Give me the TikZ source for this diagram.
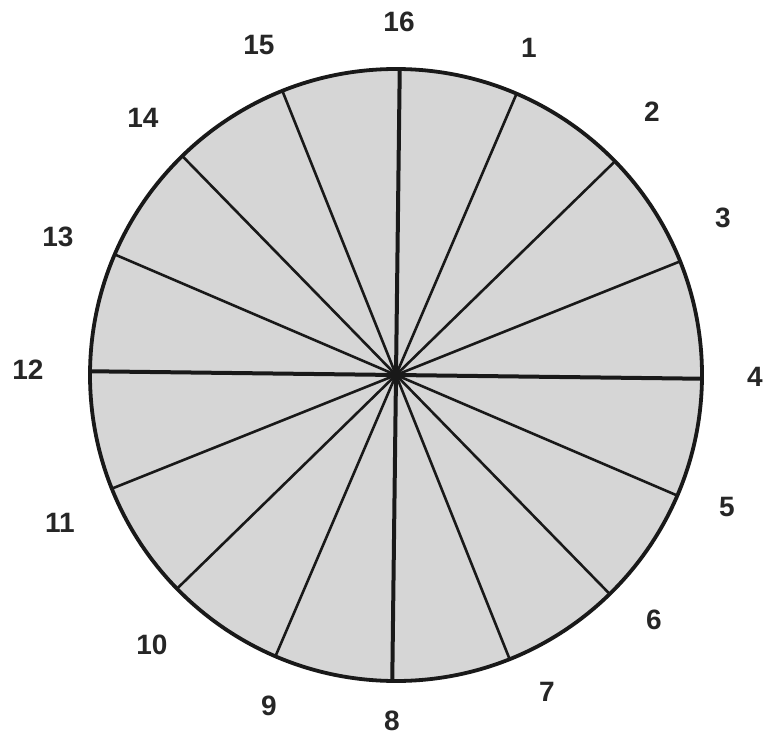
\documentclass[tikz,border=0pt]{standalone}
\usepackage{fontspec}
\setmainfont{Liberation Sans}
\definecolor{diskgray}{RGB}{214,214,214}
\begin{document}
\begin{tikzpicture}[x=1pt,y=-1pt,
  lbl/.style={font=\bfseries\fontsize{28}{30}\selectfont, inner sep=0pt, text=black!85},
  spoke/.style={line width=2.6pt, black!90},
  axisspoke/.style={line width=4pt, black!90},
  rim/.style={line width=3.8pt, black!90}]
\useasboundingbox (0,0) rectangle (773,738);
\coordinate (c) at (396,375);
\fill[diskgray] (c) circle (306);
\foreach \k in {1,...,16}{
  \path (c) ++({(\k-4)*22.5+0.7}:306) coordinate (p\k);
}
\foreach \k in {1,2,3,5,6,7,9,10,11,13,14,15}{
  \draw[spoke] (c) -- (p\k);
}
\foreach \k in {4,8,12,16}{
  \draw[axisspoke] (c) -- (p\k);
}
\draw[rim] (c) circle (306);
\node[lbl] (l1) at (529,48) {1};
\node[lbl] (l2) at (652,112) {2};
\node[lbl] (l3) at (723,218) {3};
\node[lbl] (l4) at (755,377) {4};
\node[lbl] (l5) at (727,507) {5};
\node[lbl] (l6) at (654,620) {6};
\node[lbl] (l7) at (547,692) {7};
\node[lbl] (l8) at (392,721) {8};
\node[lbl] (l9) at (269,706) {9};
\node[lbl] (l10) at (152,645) {10};
\node[lbl] (l11) at (60,523) {11};
\node[lbl] (l12) at (28,370) {12};
\node[lbl] (l13) at (58,237) {13};
\node[lbl] (l14) at (143,118) {14};
\node[lbl] (l15) at (259,45) {15};
\node[lbl] (l16) at (399,22) {16};
\end{tikzpicture}
\end{document}
